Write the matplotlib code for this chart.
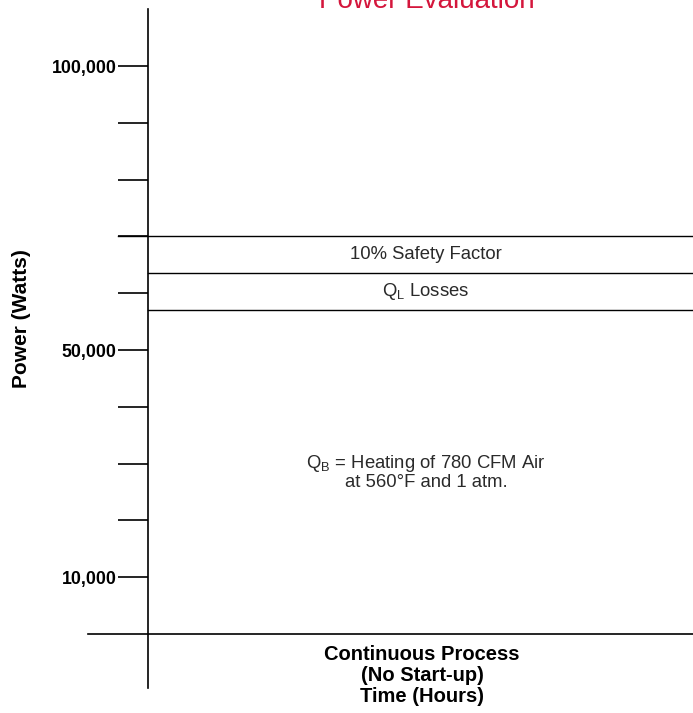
import matplotlib.pyplot as plt
import numpy as np

plt.rcParams['font.family'] = ['Liberation Sans', 'DejaVu Sans']
plt.rcParams['mathtext.fontset'] = 'custom'
plt.rcParams['mathtext.rm'] = 'Liberation Sans'

# Valores (Watts)
tick_vals = np.arange(10000, 100001, 10000)
tick_labels = ['10,000', '', '', '', '50,000', '', '', '', '', '100,000']
Q_B = 57000        # aquecimento do ar
Q_L = 6600         # perdas
fator = 0.10       # fator de seguranca
total_QL = Q_B + Q_L
total = round(total_QL * (1 + fator), -3)

fig = plt.figure(figsize=(6.93, 7.13), dpi=100)
ax = fig.add_axes([148 / 693, 25 / 713, 545 / 693, 678.8 / 713])
ax.set_xlim(0, 1)
ax.set_ylim(-9500, 110000)

for s in ['top', 'right', 'bottom']:
    ax.spines[s].set_visible(False)
ax.spines['left'].set_linewidth(1.2)

ax.set_xticks([])
ax.set_yticks(tick_vals)
ax.set_yticklabels(tick_labels, fontsize=12.8, fontweight='bold')
ax.tick_params(axis='y', direction='out', length=21.6, width=1.2, pad=1)

# linhas horizontais
ax.plot([-0.11, 1], [0, 0], 'k', lw=1.2, clip_on=False)
ax.plot([-0.055, 1], [total, total], 'k', lw=1.0, clip_on=False)
ax.plot([0, 1], [total_QL, total_QL], 'k', lw=1.0, clip_on=False)
ax.plot([0, 1], [Q_B, Q_B], 'k', lw=1.0, clip_on=False)

# textos das faixas
cor = '#2a2a2a'
ax.text(0.51, (total + total_QL) / 2, '10% Safety Factor', ha='center', va='center',
        fontsize=13.3, color=cor)
ax.text(0.51, (total_QL + Q_B) / 2, r'Q$_\mathrm{L}$ Losses', ha='center', va='center',
        fontsize=13.3, color=cor)
ax.text(0.51, 28500, 'Q$_\\mathrm{B}$ = Heating of 780 CFM Air\nat 560°F and 1 atm.',
        ha='center', va='center', fontsize=13.3, color=cor, linespacing=1.05)

fig.text(22 / 693, (713 - 319) / 713, 'Power (Watts)', rotation=90, ha='center',
         va='center', fontsize=15, fontweight='bold')
fig.text(422 / 693, (713 - 645) / 713, 'Continuous Process\n(No Start-up)\nTime (Hours)',
         ha='center', va='top', fontsize=14.5, fontweight='bold', linespacing=1.15)

# titulo cortado no topo, como no original
fig.text(427 / 693, (713 - 8) / 713, 'Power Evaluation', ha='center',
         va='baseline', fontsize=20, color='#d4163c')

plt.savefig('out.png', dpi=100)
